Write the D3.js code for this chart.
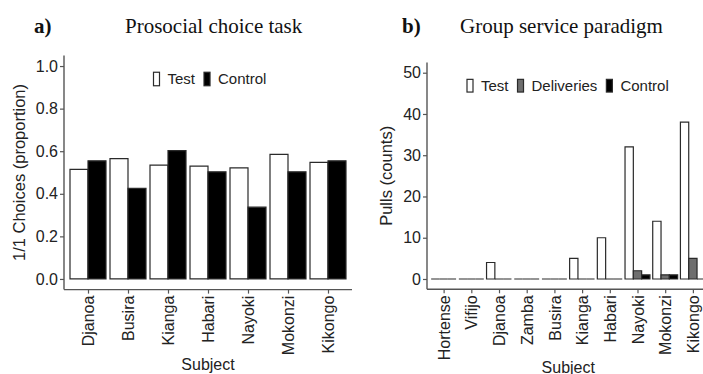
<!DOCTYPE html>
<html>
<head>
<meta charset="utf-8">
<script src="https://cdn.jsdelivr.net/npm/d3@7"></script>
<style>
  body { margin: 0; background: #fff; }
  svg { display: block; }
  text { font-family: "Liberation Sans", Arial, sans-serif; fill: #222; }
  .title { font-family: "Liberation Serif", "Times New Roman", serif; fill: #111; }
</style>
</head>
<body>
<svg width="703" height="374"></svg>
<script>
// panel a
var subjectsA = ["Djanoa", "Busira", "Kianga", "Habari", "Nayoki", "Mokonzi", "Kikongo"];
var testA = [0.515, 0.565, 0.535, 0.530, 0.522, 0.585, 0.548];
var controlA = [0.555, 0.425, 0.603, 0.503, 0.337, 0.503, 0.555];
var ticksA = [0, 0.2, 0.4, 0.6, 0.8, 1.0];

// panel b
var subjectsB = ["Hortense", "Vifijo", "Djanoa", "Zamba", "Busira", "Kianga", "Habari", "Nayoki", "Mokonzi", "Kikongo"];
var testB = [0, 0, 4, 0, 0, 5, 10, 32, 14, 38];
var deliveriesB = [0, 0, 0, 0, 0, 0, 0, 2, 1, 5];
var controlB = [0, 0, 0, 0, 0, 0, 0, 1, 1, 0];
var ticksB = [0, 10, 20, 30, 40, 50];

var svg = d3.select("svg");
var axisCol = "#555";
var barStroke = "#2a2a2a";

function barPath(x0, x1, y0, y1) {
    return "M" + x0 + "," + y0 + "H" + x1 + "V" + y1 + "H" + x0 + "Z";
}

function drawPanel(o) {
    var g = svg.append("g");
    var x = d3.scalePoint().domain(o.cats).range([o.left, o.right]).padding(0.6);
    var y = d3.scaleLinear().domain(o.ydom).range([o.bottom, o.top]);
    var groupW = x.step() * 0.9;
    var sub = d3.scaleBand().domain(o.series.map((s) => s.name)).range([-groupW / 2, groupW / 2]);

    o.series.forEach(function(s) {
        g.selectAll(null)
            .data(o.cats.map((c, i) => ({ cat: c, v: s.values[i] })))
            .enter().append("path")
            .attr("d", (d) => {
                var x0 = x(d.cat) + sub(s.name);
                return barPath(x0, x0 + sub.bandwidth(), y(0), y(d.v));
            })
            .attr("fill", s.fill)
            .attr("stroke", barStroke)
            .attr("stroke-width", 1.2);
    });

    var yAxis = d3.axisLeft(y).tickValues(o.ticks).tickFormat(o.fmt).tickSize(4).tickPadding(2);
    var ya = g.append("g").attr("transform", "translate(" + o.left + ",0)").call(yAxis);
    var xAxis = d3.axisBottom(x).tickSize(4).tickPadding(2);
    var xa = g.append("g").attr("transform", "translate(0," + o.bottom + ")").call(xAxis);

    [ya, xa].forEach(function(a) {
        a.select(".domain").remove();
        a.selectAll(".tick line").attr("stroke", axisCol).attr("stroke-width", 1.2);
        a.selectAll(".tick text").style("font-size", "16px").attr("fill", "#333");
    });
    xa.selectAll(".tick text")
        .attr("transform", "rotate(-90)")
        .attr("text-anchor", "end")
        .attr("x", -6)
        .attr("y", 0)
        .attr("dy", "0.35em");

    g.append("line").attr("x1", o.left).attr("x2", o.left).attr("y1", o.top).attr("y2", o.bottom)
        .attr("stroke", axisCol).attr("stroke-width", 1.4);
    g.append("line").attr("x1", o.left).attr("x2", o.right).attr("y1", o.bottom).attr("y2", o.bottom)
        .attr("stroke", axisCol).attr("stroke-width", 1.4);

    g.append("text").text(o.ylabel)
        .attr("transform", "translate(" + o.ylabelX + "," + ((o.top + o.bottom) / 2) + ") rotate(-90)")
        .attr("text-anchor", "middle")
        .style("font-size", "16.5px");

    g.append("text").text("Subject")
        .attr("x", (o.left + o.right) / 2)
        .attr("y", o.xlabelY)
        .attr("text-anchor", "middle")
        .style("font-size", "16px");

    g.append("text").text(o.letter).attr("class", "title")
        .attr("x", o.letterX).attr("y", 33)
        .style("font-size", "21px").style("font-weight", "bold");
    g.append("text").text(o.title).attr("class", "title")
        .attr("x", o.titleX).attr("y", 33)
        .style("font-size", "21px");

    // legend
    var lx = o.legendX;
    o.series.forEach(function(s) {
        g.append("rect")
            .attr("x", lx).attr("y", o.legendY - o.keyH / 2)
            .attr("width", o.keyW).attr("height", o.keyH)
            .attr("fill", s.fill).attr("stroke", barStroke).attr("stroke-width", 1.2);
        var t = g.append("text").text(s.name)
            .attr("x", lx + o.keyW + 8).attr("y", o.legendY)
            .attr("dy", "0.36em")
            .style("font-size", "15px");
        lx += o.keyW + 8 + t.node().getComputedTextLength() + 9;
    });
}

drawPanel({
    cats: subjectsA,
    series: [{ name: "Test", values: testA, fill: "#fff" }, { name: "Control", values: controlA, fill: "#000" }],
    left: 64, right: 352, top: 55.4, bottom: 289.6,
    ydom: [-0.05, 1.05], ticks: ticksA, fmt: d3.format(".1f"),
    ylabel: "1/1 Choices (proportion)", ylabelX: 25, xlabelY: 369.5,
    letter: "a)", letterX: 34, title: "Prosocial choice task", titleX: 125,
    legendX: 153.5, legendY: 79, keyW: 6, keyH: 13.5
});

drawPanel({
    cats: subjectsB,
    series: [{ name: "Test", values: testB, fill: "#fff" },
             { name: "Deliveries", values: deliveriesB, fill: "#6e6e6e" },
             { name: "Control", values: controlB, fill: "#000" }],
    left: 427, right: 709.5, top: 62.4, bottom: 289.3,
    ydom: [-2.5, 52.5], ticks: ticksB, fmt: d3.format("d"),
    ylabel: "Pulls (counts)", ylabelX: 392, xlabelY: 372.5,
    letter: "b)", letterX: 402, title: "Group service paradigm", titleX: 460,
    legendX: 467, legendY: 85.7, keyW: 6, keyH: 12.7
});
</script>
</body>
</html>
